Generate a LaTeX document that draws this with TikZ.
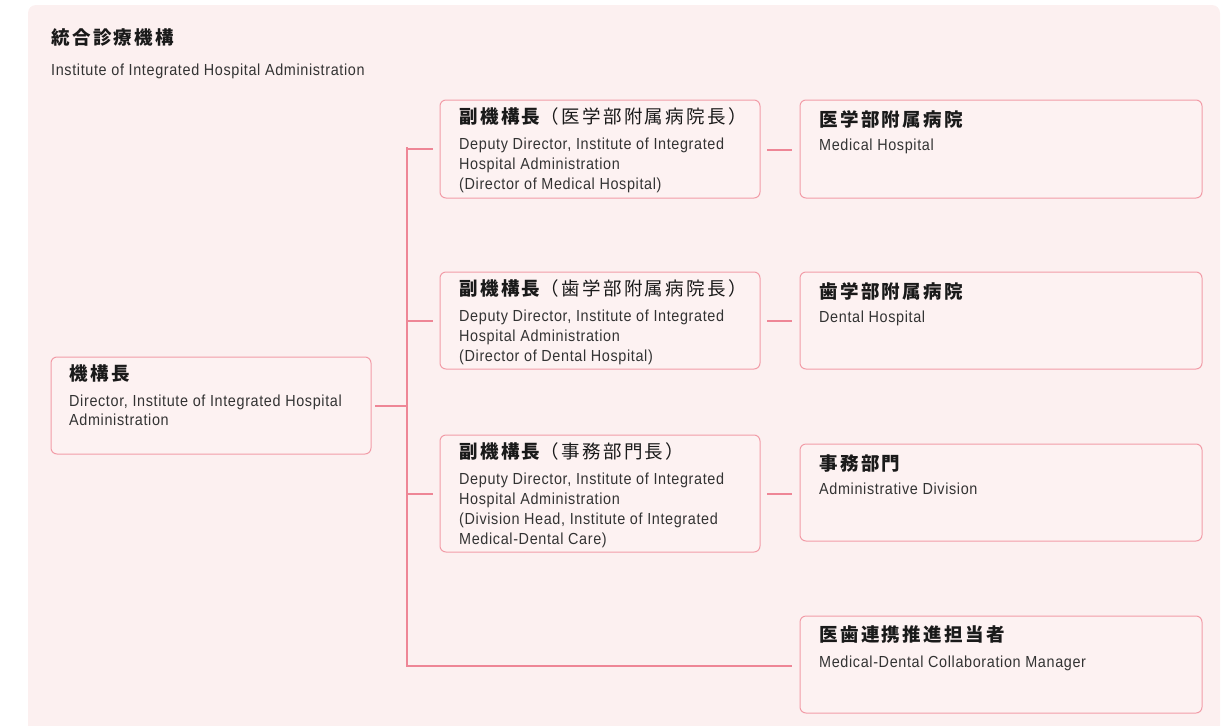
\documentclass[tikz,border=0pt]{standalone}
\usepackage{fontspec}
\newfontfamily\enfont{Liberation Sans}[FakeStretch=0.9,LetterSpace=4]
\newfontfamily\jpfont{Noto Sans CJK JP}[LetterSpace=13]
\definecolor{bgpink}{HTML}{FCF0F0}
\definecolor{boxfill}{HTML}{FDF2F2}
\definecolor{boxline}{HTML}{F29DA8}
\definecolor{connpink}{HTML}{EE8696}
\definecolor{entext}{HTML}{333333}
\definecolor{jptext}{HTML}{1A1A1A}
\tikzset{
  orgbox/.style={draw=boxline, fill=boxfill, line width=1pt, rounded corners=6pt},
  conn/.style={draw=connpink, line width=2pt},
  entxt/.style={anchor=base west, inner sep=0pt, text=entext, font=\enfont\fontsize{16}{20}\selectfont},
  jptxt/.style={anchor=base west, inner sep=0pt, text=jptext, font=\jpfont\fontsize{18.5}{22}\selectfont},
}
\begin{document}
\begin{tikzpicture}[x=1pt,y=-1pt]
\useasboundingbox (0,0) rectangle (1227,726);
\fill[bgpink, rounded corners=8pt] (28,5) rectangle (1220,740);

% title
\node[jptxt] (title) at (51,44.5) {\bfseries 統合診療機構};
\node[entxt] (titleen) at (51,75) {Institute of Integrated Hospital Administration};

% boxes
\draw[orgbox] (51,357) rectangle (371,454);
\coordinate (dirE) at (375,405.5);
\draw[orgbox] (440,100) rectangle (760,198);
\draw[orgbox] (440,272) rectangle (760,369);
\draw[orgbox] (440,435) rectangle (760,552);
\draw[orgbox] (800,100) rectangle (1202,198);
\draw[orgbox] (800,272) rectangle (1202,369);
\draw[orgbox] (800,444) rectangle (1202,541);
\draw[orgbox] (800,616) rectangle (1202,713);

% director
\node[jptxt] (dirjp) at (69,380.5) {\bfseries 機構長};
\node[entxt] (dir1) at (69,406) {Director, Institute of Integrated Hospital};
\node[entxt] (dir2) at (69,425) {Administration};

% deputy 1
\node[jptxt] (d1jp) at (459,123.5) {{\bfseries 副機構長}（医学部附属病院長）};
\node[entxt] (d1a) at (459,149) {Deputy Director, Institute of Integrated};
\node[entxt] (d1b) at (459,169) {Hospital Administration};
\node[entxt] (d1c) at (459,189) {(Director of Medical Hospital)};

% deputy 2
\node[jptxt] (d2jp) at (459,295.5) {{\bfseries 副機構長}（歯学部附属病院長）};
\node[entxt] (d2a) at (459,321) {Deputy Director, Institute of Integrated};
\node[entxt] (d2b) at (459,341) {Hospital Administration};
\node[entxt] (d2c) at (459,361) {(Director of Dental Hospital)};

% deputy 3
\node[jptxt] (d3jp) at (459,458.5) {{\bfseries 副機構長}（事務部門長）};
\node[entxt] (d3a) at (459,484) {Deputy Director, Institute of Integrated};
\node[entxt] (d3b) at (459,504) {Hospital Administration};
\node[entxt] (d3c) at (459,524) {(Division Head, Institute of Integrated};
\node[entxt] (d3d) at (459,544) {Medical-Dental Care)};

% right boxes
\node[jptxt] (r1jp) at (819,126) {\bfseries 医学部附属病院};
\node[entxt] (r1en) at (819,150) {Medical Hospital};
\node[jptxt] (r2jp) at (819,298) {\bfseries 歯学部附属病院};
\node[entxt] (r2en) at (819,322) {Dental Hospital};
\node[jptxt] (r3jp) at (819,470) {\bfseries 事務部門};
\node[entxt] (r3en) at (819,494) {Administrative Division};
\node[jptxt] (r4jp) at (819,641.5) {\bfseries 医歯連携推進担当者};
\node[entxt] (r4en) at (819,667) {Medical-Dental Collaboration Manager};

% connectors
\coordinate (tmid) at (406.5,405.5);
\coordinate (ttop) at (406.5,148);
\coordinate (t1) at (406.5,149);
\coordinate (t2) at (406.5,320.5);
\coordinate (t3) at (406.5,493.5);
\coordinate (t4) at (406.5,665.5);
\coordinate (b1) at (433,149);
\coordinate (b2) at (433,320.5);
\coordinate (b3) at (433,493.5);
\coordinate (b4) at (792,665.5);
\draw[conn] (dirE) -- (tmid);
\draw[conn, line cap=rect] (ttop) -- (t4);
\draw[conn] (t1) -- (b1);
\draw[conn] (t2) -- (b2);
\draw[conn] (t3) -- (b3);
\draw[conn] (t4) -- (b4);
\coordinate (s1a) at (767,150); \coordinate (s1b) at (792,150);
\coordinate (s2a) at (767,320.5); \coordinate (s2b) at (792,320.5);
\coordinate (s3a) at (767,493.5); \coordinate (s3b) at (792,493.5);
\draw[conn] (s1a) -- (s1b);
\draw[conn] (s2a) -- (s2b);
\draw[conn] (s3a) -- (s3b);
\end{tikzpicture}
\end{document}
